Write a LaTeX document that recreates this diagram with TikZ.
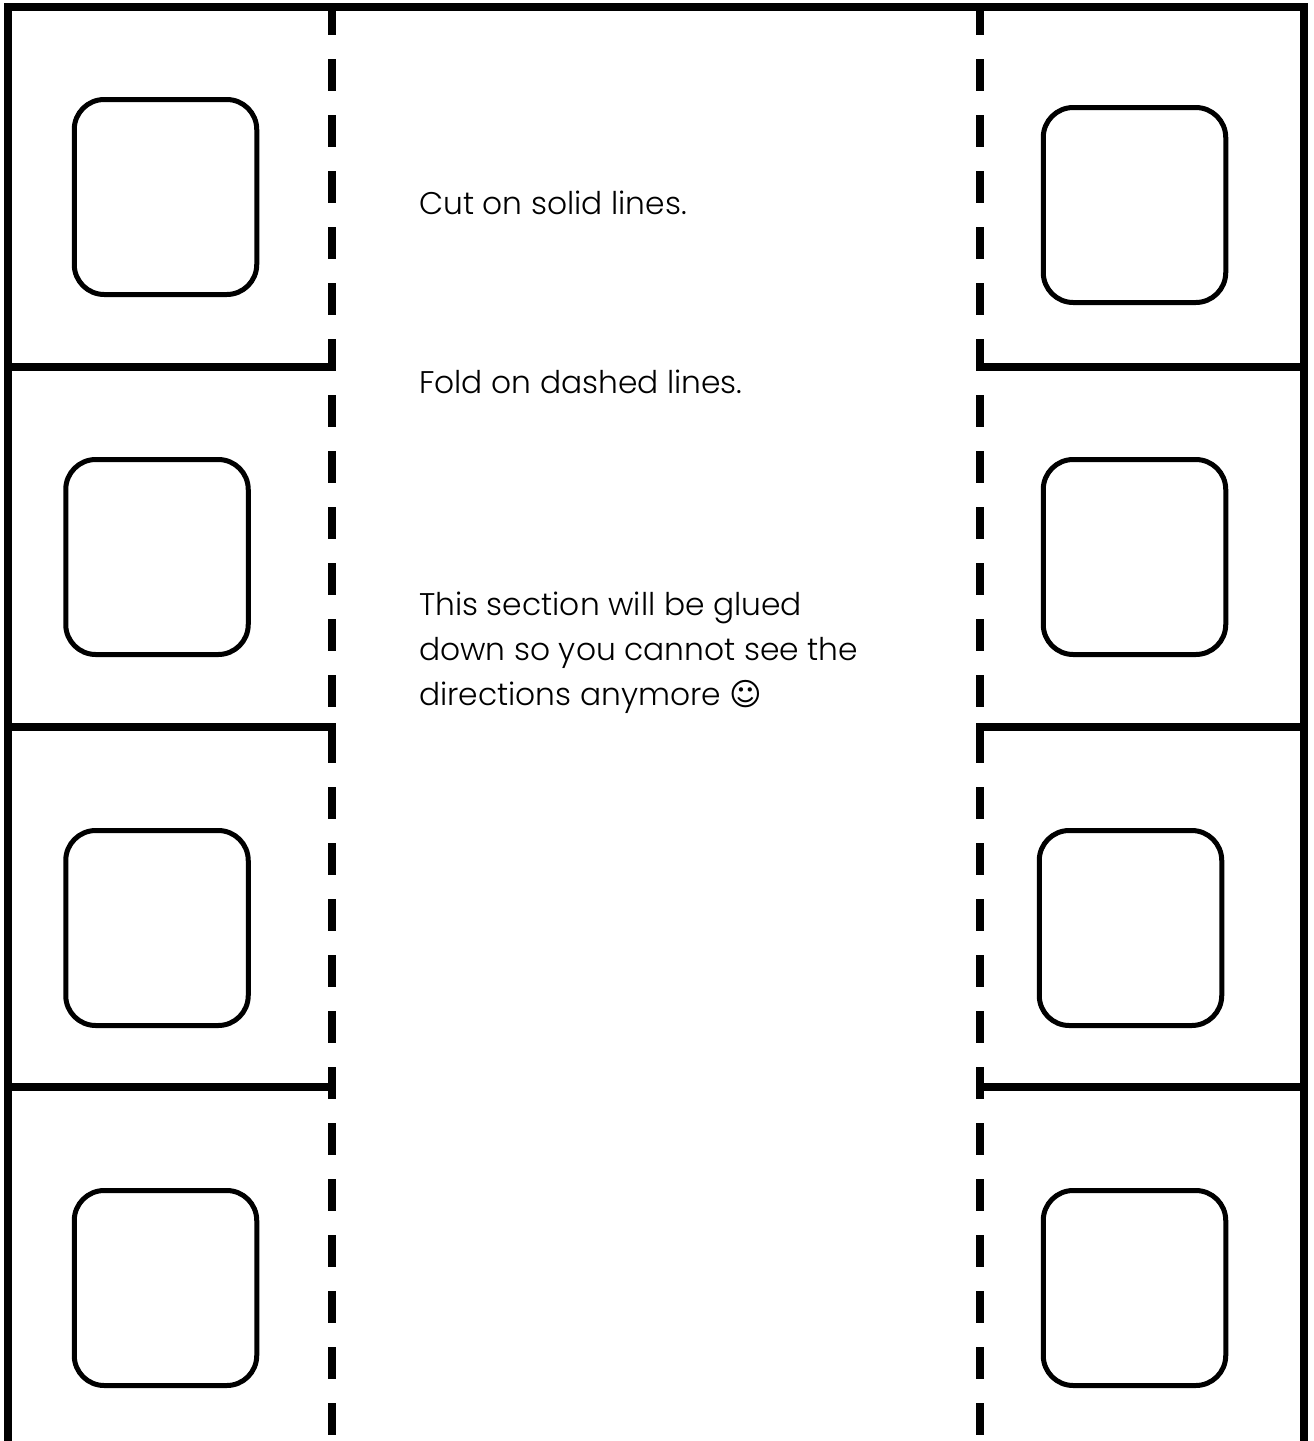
\documentclass[tikz,border=0pt]{standalone}
\usepackage{fontspec}
\setmainfont{Poppins Light}
\newfontfamily\symfont{DejaVu Sans}
\tikzset{
  x=1pt,y=-1pt,
  cutline/.style={line width=8pt,line cap=butt,line join=miter},
  foldline/.style={line width=8pt,dash pattern=on 32pt off 24pt,dash phase=8pt},
  window/.style={draw,line width=5pt,rounded corners=30pt,minimum width=182.5pt,minimum height=195pt,inner sep=0pt},
  note/.style={anchor=base west,inner sep=0pt,font=\fontsize{31.3}{45}\selectfont,align=left}
}
\begin{document}
\begin{tikzpicture}
\useasboundingbox[fill=white] (0,0) rectangle (1314,1441);
\coordinate (tl) at (8,7); \coordinate (tr) at (1304,7);
\coordinate (bl) at (8,1441); \coordinate (br) at (1304,1441);
\coordinate (fl0) at (332,11); \coordinate (fl1) at (332,1441);
\coordinate (fr0) at (980,11); \coordinate (fr1) at (980,1441);
\coordinate (la) at (4,367); \coordinate (lb) at (336,367);
\coordinate (lc) at (4,727); \coordinate (ld) at (336,727);
\coordinate (le) at (4,1087); \coordinate (lf) at (336,1087);
\coordinate (ra) at (976,367); \coordinate (rb) at (1308,367);
\coordinate (rc) at (976,727); \coordinate (rd) at (1308,727);
\coordinate (re) at (976,1087); \coordinate (rf) at (1308,1087);
\draw[cutline] (bl) -- (8,3) (4,7) -- (1308,7) (1304,3) -- (br);
\draw[cutline] (la)--(lb) (lc)--(ld) (le)--(lf) (ra)--(rb) (rc)--(rd) (re)--(rf);
\draw[foldline] (fl0)--(fl1);
\draw[foldline] (fr0)--(fr1);
\draw[line width=8pt] (332,723) -- (332,731) (980,723) -- (980,731);
\node[window] (w1) at (165.5,197) {};
\node[window] (w2) at (157,557) {};
\node[window] (w3) at (157,928) {};
\node[window] (w4) at (165.5,1288) {};
\node[window] (w5) at (1134.5,205) {};
\node[window] (w6) at (1134.5,557) {};
\node[window] (w7) at (1130.5,928) {};
\node[window] (w8) at (1134.5,1288) {};
\node[note] (n1) at (419,214) {Cut on solid lines.};
\node[note] (n2) at (419,393) {Fold on dashed lines.};
\node[note,anchor=north west] (n3) at (419,592) {This section will be glued\\down so you cannot see the\\directions anymore {\symfont ☺}};
\end{tikzpicture}
\end{document}
